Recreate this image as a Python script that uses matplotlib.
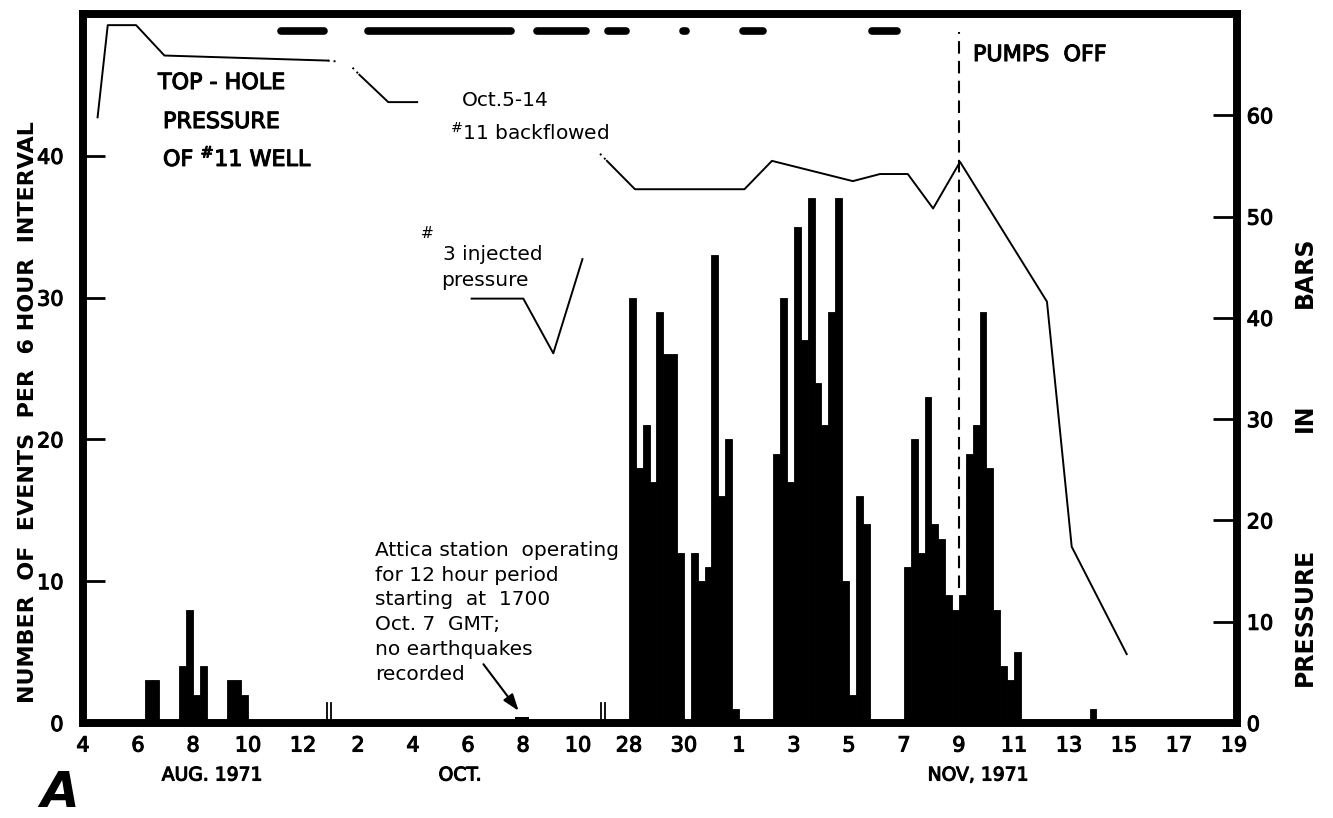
import matplotlib.pyplot as plt
import matplotlib.patheffects as pe
from matplotlib.transforms import blended_transform_factory

plt.rcParams["font.family"] = "DejaVu Sans"

# Earthquakes per 6-hour interval: each run starts at (month, day) and
# continues in consecutive 6-hour bins
event_runs = [("Aug", 6.25), ("Aug", 7.5), ("Aug", 9.25),
              ("Oct", 28.0), ("Nov", 2.25), ("Nov", 7.0), ("Nov", 13.75)]
event_counts = [
    [3, 3],
    [4, 8, 2, 4],
    [3, 3, 2],
    [30, 18, 21, 17, 29, 26, 26, 12, 0, 12, 10, 11, 33, 16, 20, 1],
    [19, 30, 17, 35, 27, 37, 24, 21, 29, 37, 10, 2, 16, 14],
    [11, 20, 12, 23, 14, 13, 9, 8, 9, 19, 21, 29, 18, 8, 4, 3, 5],
    [1],
]

# Attica station: 12 h of recording from 1700 GMT Oct 7
attica_start = ("Oct", 7.71)
attica_days = 0.5

# Top-hole pressure of #11 well (bars), three pieces
well11_aug_days = [4.53, 4.9, 5.93, 6.96, 12.9]
well11_aug_bar = [59.8, 68.9, 68.9, 65.9, 65.4]
well11_oct_days = [2.05, 3.1, 4.15]
well11_oct_bar = [64.0, 61.3, 61.3]
well11_late_dates = [("Oct", 27.2), ("Oct", 28.22), ("Nov", 1.2), ("Nov", 2.2),
                     ("Nov", 5.14), ("Nov", 6.13), ("Nov", 7.14), ("Nov", 8.06),
                     ("Nov", 9.04), ("Nov", 12.2), ("Nov", 13.1), ("Nov", 15.1)]
well11_late_bar = [55.5, 52.7, 52.7, 55.5, 53.5, 54.2, 54.2, 50.8, 55.4,
                   41.6, 17.4, 6.8]
# dotted ends where the record breaks off
well11_gaps = [[("Aug", 12.9, 65.4), ("Aug", 13.3, 65.3)],
               [("Oct", 1.8, 64.7), ("Oct", 2.05, 64.0)],
               [("Oct", 26.95, 56.2), ("Oct", 27.2, 55.5)]]

# #3 injected pressure (bars)
well3_days = [6.13, 8.01, 9.1, 10.16]
well3_bar = [41.9, 41.9, 36.5, 45.8]

# pumping periods marked along the top
pump_periods = [(("Aug", 11.2), ("Aug", 12.77)),
                (("Oct", 2.38), ("Oct", 7.56)),
                (("Oct", 8.5), ("Oct", 10.29)),
                (("Oct", 11.1), ("Oct", 27.9)),
                (("Oct", 29.98), ("Oct", 30.08)),
                (("Nov", 1.13), ("Nov", 1.86)),
                (("Nov", 5.83), ("Nov", 6.75))]
pumps_off = ("Nov", 9.0)

aug_ticks = [4, 6, 8, 10, 12]
oct_ticks = [2, 4, 6, 8, 10]
late_oct_ticks = [28, 30]
nov_ticks = [1, 3, 5, 7, 9, 11, 13, 15, 17, 19]
axis_breaks = [("Aug", 12.95), ("Oct", 10.9)]


def day_pos(month, day):
    """Position on the broken time axis, one unit per day."""
    if month == "Aug":
        return day - 4
    if month == "Oct" and day < 20:
        return day + 8
    if month == "Oct":
        return day - 8.15
    return day + 31 - 8.15


W, H = 1333, 818


def fx(px):
    return px / W


def fy(py):
    return 1 - py / H


# slightly heavier strokes for the lettering
heavy = [pe.withStroke(linewidth=0.8, foreground="black")]

fig = plt.figure(figsize=(W / 100, H / 100), dpi=100)
ax = fig.add_axes([fx(83), fy(723), 1154 / W, 709 / H])
ax2 = ax.twinx()

for (month, day), counts in zip(event_runs, event_counts):
    x0 = day_pos(month, day)
    xs = [x0 + 0.25 * i for i in range(len(counts))]
    ax.bar(xs, counts, width=0.25, align="edge", color="black",
           edgecolor="black", linewidth=0.6)
ax.bar(day_pos(*attica_start), 0.4, width=attica_days, align="edge",
       color="black", linewidth=0)

lw = 1.4
ax2.plot([day_pos("Aug", d) for d in well11_aug_days], well11_aug_bar,
         color="black", lw=lw)
ax2.plot([day_pos("Oct", d) for d in well11_oct_days], well11_oct_bar,
         color="black", lw=lw)
ax2.plot([day_pos(m, d) for m, d in well11_late_dates], well11_late_bar,
         color="black", lw=lw)
for gap in well11_gaps:
    ax2.plot([day_pos(m, d) for m, d, _ in gap], [p for _, _, p in gap],
             color="black", lw=lw, ls=(0, (1, 2)))
ax2.plot([day_pos("Oct", d) for d in well3_days], well3_bar,
         color="black", lw=lw)

top = blended_transform_factory(ax.transData, ax.transAxes)
for (m0, d0), (m1, d1) in pump_periods:
    ax.plot([day_pos(m0, d0), day_pos(m1, d1)], [0.976, 0.976],
            transform=top, color="black", lw=5.5, solid_capstyle="round")
ax.axvline(day_pos(*pumps_off), ymin=0.19, ymax=0.975, color="black",
           lw=1.5, dashes=(6, 3.5))

for m, d in axis_breaks:
    x = day_pos(m, d)
    for dx in (-0.07, 0.07):
        ax.plot([x + dx, x + dx], [0.0, 0.028], transform=top,
                color="black", lw=1.3, clip_on=False)

ax.set_xlim(0, 41.96)
ax.set_ylim(0, 50)
ax2.set_ylim(0, 70)

xticks = ([day_pos("Aug", d) for d in aug_ticks]
          + [day_pos("Oct", d) for d in oct_ticks]
          + [day_pos("Oct", d) for d in late_oct_ticks]
          + [day_pos("Nov", d) for d in nov_ticks])
xlabels = [str(d) for d in aug_ticks + oct_ticks + late_oct_ticks + nov_ticks]
ax.set_xticks(xticks, xlabels)
ax.set_yticks([0, 10, 20, 30, 40])
ax2.set_yticks([0, 10, 20, 30, 40, 50, 60])

ax.tick_params(axis="x", length=0, pad=9)
ax.tick_params(axis="y", direction="in", length=16, width=2, pad=14)
ax2.tick_params(axis="y", direction="in", length=17, width=2, pad=7)
for lab in ax.get_xticklabels() + ax.get_yticklabels() + ax2.get_yticklabels():
    lab.set_fontsize(15)
    lab.set_path_effects(heavy)

for a in (ax, ax2):
    for s in a.spines.values():
        s.set_linewidth(5.5)
        s.set_capstyle("projecting")

# labels and notes
caps = dict(fontsize=16, color="black", path_effects=heavy)
note = dict(fontsize=14.5, color="black")
fig.text(fx(158), fy(89), "TOP - HOLE", va="baseline", **caps)
fig.text(fx(163), fy(128), "PRESSURE", va="baseline", **caps)
fig.text(fx(163), fy(166), r"OF $^{\#}$11 WELL", va="baseline", **caps)
fig.text(fx(973), fy(55), "PUMPS  OFF", va="center", **caps)

fig.text(fx(462), fy(106), "Oct.5-14", va="baseline", **note)
fig.text(fx(450), fy(140), r"$^{\#}$11 backflowed", va="baseline", **note)
fig.text(fx(421), fy(233), "#", va="center", fontsize=11)
fig.text(fx(443), fy(254), "3 injected", va="center", **note)
fig.text(fx(441), fy(280), "pressure", va="center", **note)

fig.text(fx(375), fy(541), "Attica station  operating\nfor 12 hour period\n"
         "starting  at  1700\nOct. 7  GMT;\nno earthquakes\nrecorded",
         va="top", linespacing=1.38, **note)
ax.annotate("", xy=(day_pos("Oct", 7.9), 0.7), xytext=(day_pos("Oct", 6.5), 4.3),
            arrowprops=dict(arrowstyle="-|>,head_length=1.0,head_width=0.35",
                            color="black", lw=1.5))

fig.text(fx(28), fy(412), "NUMBER  OF  EVENTS  PER  6 HOUR  INTERVAL",
         rotation=90, ha="center", va="center", fontsize=16, fontweight="bold")
for word, py in (("PRESSURE", 617), ("IN", 418), ("BARS", 272)):
    fig.text(fx(1305), fy(py), word, rotation=90, ha="center", va="center",
             fontsize=17, fontweight="bold")

month = dict(ha="center", va="center", fontsize=13.5, path_effects=heavy)
fig.text(fx(212), fy(775), "AUG. 1971", **month)
fig.text(fx(460), fy(775), "OCT.", **month)
fig.text(fx(978), fy(775), "NOV, 1971", **month)
fig.text(fx(40), fy(817), "A", ha="left", va="bottom", fontsize=36,
         fontweight="bold", fontstyle="italic")

fig.savefig("out.png", dpi=100)
